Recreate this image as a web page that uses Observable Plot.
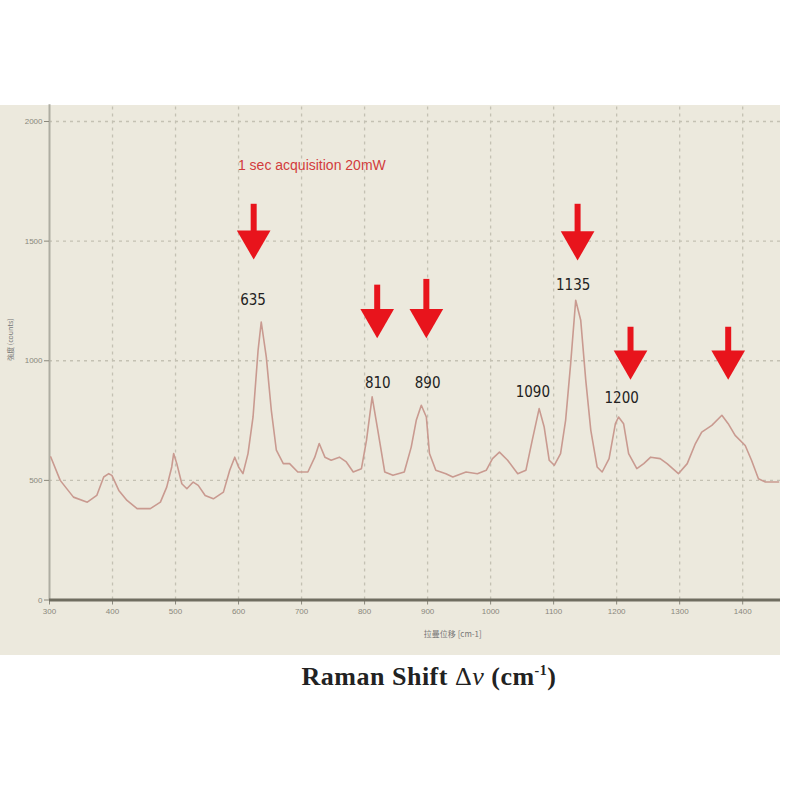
<!DOCTYPE html>
<html><head><meta charset="utf-8">
<script src="https://cdn.jsdelivr.net/npm/d3@7"></script>
<script src="https://cdn.jsdelivr.net/npm/@observablehq/plot@0.6"></script>
<style>
body{margin:0;background:#fff;width:800px;height:800px;overflow:hidden;position:relative;font-family:"Liberation Sans",Arial,sans-serif}
#panel{position:absolute;left:0;top:105px;width:780px;height:550px;background:#ece9dd}
#caption{position:absolute;left:429px;top:662px;transform:translateX(-50%);white-space:nowrap;font-family:"Liberation Serif","Times New Roman",serif;font-weight:bold;font-size:26px;letter-spacing:0.5px;color:#222}
#caption sup{font-size:14px}
</style></head><body>
<div id="panel"></div>
<div id="caption">Raman Shift <span style="font-weight:normal">Δ<i>v</i></span> (cm<sup>-1</sup>)</div>
<script>
// Spectrum (Raman shift in cm^-1, intensity in counts)
const wavenumber = [302,317,338,360,375,386,394,399,410,423,439,460,476,486,494,497,502,510,518,528,536,547,560,576,586,594,600,607,615,623,631,636,644,652,660,671,681,694,710,721,728,737,747,760,771,782,795,803,812,821,832,845,863,874,882,890,898,903,913,929,940,961,979,993,1003,1014,1027,1043,1056,1066,1077,1085,1093,1101,1111,1119,1127,1135,1143,1151,1159,1169,1177,1188,1198,1203,1211,1219,1232,1243,1254,1269,1280,1298,1312,1325,1335,1351,1367,1377,1388,1404,1414,1425,1436,1457];
const counts = [598,500,430,409,437,514,528,521,458,416,382,382,409,472,556,612,570,486,465,493,479,437,423,451,542,597,556,528,612,765,1044,1162,1016,793,626,570,570,535,535,597,654,597,584,597,577,535,549,667,849,709,535,521,535,639,751,814,765,612,542,528,514,535,528,542,591,618,584,528,542,667,800,723,584,563,612,751,988,1253,1169,918,709,556,535,591,737,765,737,612,549,570,597,591,570,528,570,654,702,730,772,737,688,646,584,507,493,493];

// Peak labels
const peakText = ["635","810","890","1090","1135","1200"];
const peakX = [623,821,900,1067,1131,1208];
const peakY = [1253,906,906,868,1316,843];

// Arrows
const arrowX = [624,820,898,1138,1222,1377];
const arrowTop = [1654,1316,1340,1654,1140,1140];
const arrowTip = [1429,1100,1100,1425,927,927];

// Ticks
const xTicks = [300,400,500,600,700,800,900,1000,1100,1200,1300,1400];
const yTicks = [0,500,1000,1500,2000];

const title = "1 sec acquisition 20mW";
const xLabel = "拉曼位移 [cm-1]";
const yLabel = "強度 (counts)";

const spectrum = wavenumber.map((w,i)=>({w, c: counts[i]}));
const peaks = peakText.map((t,i)=>({t, x: peakX[i], y: peakY[i]}));
const arrows = arrowX.map((x,i)=>({x, top: arrowTop[i], tip: arrowTip[i]}));

const red = "#e8141c";
const grid = "#c4c1b3";
const narrow = "'Liberation Sans Narrow','DejaVu Sans Condensed','Arial Narrow',sans-serif";

const chart = Plot.plot({
  width: 780, height: 550,
  marginLeft: 49, marginRight: 0, marginTop: 16, marginBottom: 55.5,
  style: {background: "transparent", overflow: "visible", fontFamily: "'Liberation Sans',Arial,sans-serif"},
  x: {domain: [300, 1460]},
  y: {domain: [0, 2000]},
  marks: [
    Plot.ruleX(xTicks.slice(1), {y1: 0, y2: 2070, stroke: grid, strokeWidth: 1.3, strokeDasharray: "3,4"}),
    Plot.ruleY(yTicks.slice(1), {x1: 300, x2: 1460, stroke: grid, strokeWidth: 1.3, strokeDasharray: "3,4"}),
    Plot.ruleX([300], {y1: 0, y2: 2070, stroke: "#aeada2", strokeWidth: 2}),
    Plot.axisX({ticks: xTicks, tickFormat: d => String(d), tickSize: 5, tickPadding: 3, fontSize: 8, color: "#8a887c", label: null}),
    Plot.axisY({ticks: yTicks, tickFormat: d => String(d), tickSize: 5, tickPadding: 2, fontSize: 8, color: "#8a887c", label: null}),
    Plot.ruleY([0], {stroke: "#6f6d60", strokeWidth: 3}),
    Plot.line(spectrum, {x: "w", y: "c", stroke: "#c99a90", strokeWidth: 1.6}),
    Plot.ruleX(arrows, {x: "x", y1: "top", y2: "tip", stroke: red, strokeWidth: 6, insetBottom: 20}),
    Plot.dot(arrows, {x: "x", y: "tip", symbol: "triangle", r: 12.5, fill: red, stroke: "none", rotate: 180, dy: -18}),
    Plot.text(peaks, {x: "x", y: "y", text: "t", fontSize: 15, fill: "#222", fontFamily: narrow}),
    Plot.text([title], {x: 599, y: 1818, text: d => d, textAnchor: "start", fill: "#d23c3c", fontSize: 14}),
    Plot.text([xLabel], {x: 940, frameAnchor: "bottom", dy: 37, text: d => d, fontSize: 8, fill: "#777", fontFamily: "'Noto Sans CJK SC',sans-serif"}),
    Plot.text([yLabel], {frameAnchor: "left", dx: -39, rotate: -90, text: d => d, fontSize: 7, fill: "#777", fontFamily: "'Noto Sans CJK TC',sans-serif"})
  ]
});
document.getElementById("panel").appendChild(chart);
</script>
</body></html>
